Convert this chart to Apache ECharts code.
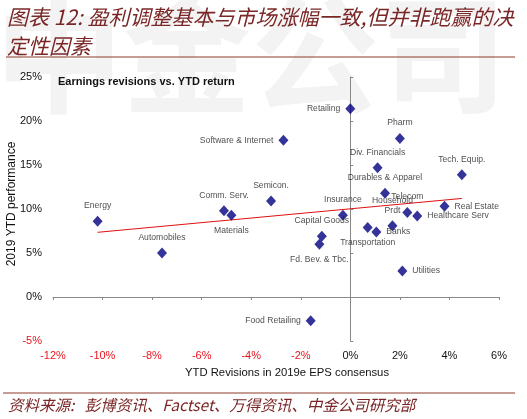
<!DOCTYPE html>
<html><head><meta charset="utf-8">
<script src="https://cdn.jsdelivr.net/npm/echarts@6/dist/echarts.min.js"></script>
<style>html,body{margin:0;padding:0;background:#fff}#c{width:527px;height:419px}</style>
</head><body><div id="c"></div>
<script>
// ---- data ----
const sectors = ['Energy','Automobiles','Comm. Serv.','Materials','Semicon.','Software & Internet','Retailing','Pharm','Div. Financials','Tech. Equip.','Durables & Apparel','Real Estate','Telecom','Healthcare Serv','Insurance','Household\nPrdt','Banks','Transportation','Capital Goods','Fd. Bev. & Tbc.','Utilities','Food Retailing'];
const epsRevision = [-10.2,-7.6,-5.1,-4.8,-3.2,-2.7,0.0,2.0,1.1,4.5,1.4,3.8,2.3,2.7,-0.3,1.7,1.05,0.7,-1.15,-1.25,2.1,-1.6];
const ytdReturn   = [8.6,5.0,9.8,9.3,10.9,17.8,21.4,18.0,14.7,13.9,11.8,10.3,9.6,9.2,9.3,8.1,7.4,7.9,6.9,6.0,2.95,-2.7];
const trendX = [-10.2, 4.5];
const trendY = [7.35, 11.2];
const xTicks = [-12,-10,-8,-6,-4,-2,0,2,4,6];
const yTicks = [-5,0,5,10,15,20,25];

// ---- label placement (style) ----
const labelPos = {
 'Energy':['top',[0,3]], 'Automobiles':['top',[0,3]], 'Comm. Serv.':['top',[-9,6]],
 'Materials':['bottom',[15,-4]], 'Semicon.':['top',[0,3]], 'Software & Internet':['left',[4,0]],
 'Retailing':['left',[0,-3]], 'Pharm':['top',[0,4]], 'Div. Financials':['top',[14,4]],
 'Tech. Equip.':['top',[0,4]], 'Durables & Apparel':['top',[17,6]], 'Real Estate':['right',[-4,-1]],
 'Telecom':['top',[11,6]], 'Healthcare Serv':['right',[-7,6]], 'Insurance':['top',[0,4]],
 'Household\nPrdt':['top',[-7,6]], 'Banks':['right',[-8,4]], 'Transportation':['bottom',[6,1]],
 'Capital Goods':['top',[-5,7]], 'Fd. Bev. & Tbc.':['bottom',[-11,-8]], 'Utilities':['right',[-1,1]],
 'Food Retailing':['left',[2,0]]
};

const pts = sectors.map((n,i)=>({
  name:n, value:[epsRevision[i], ytdReturn[i]],
  label:{show:true, formatter:n, position:labelPos[n][0], offset:labelPos[n][1], distance:5,
         fontSize:8.6, color:'#222', fontFamily:'Liberation Sans, Arial', lineHeight:10}
}));

const FONT = 'Liberation Sans, Arial, sans-serif';
const chart = echarts.init(document.getElementById('c'));
chart.setOption({
  animation:false,
  backgroundColor:'#fff',
  grid:{left:53, right:28, top:77, bottom:78, outerBoundsMode:'none', containLabel:false},
  graphic:[
    {type:'text', z:-10, left:-5, top:-10, style:{text:'中金公司', font:'bold 128px "Noto Sans CJK SC"', fill:'#f3f3f3'}},
    {type:'text', x:7, y:3, style:{text:'图表 12: 盈利调整基本与市场涨幅一致,但并非跑赢的决\n定性因素', font:'italic 21px "Noto Sans CJK SC"', fill:'#7a2626', lineHeight:29}},
    {type:'line', shape:{x1:6, y1:57, x2:515, y2:57}, style:{stroke:'#8a3a2a', lineWidth:1}},
    {type:'text', x:58, y:76, style:{text:'Earnings revisions vs. YTD return', font:'bold 11px '+FONT, fill:'#111'}},
    {type:'text', x:287, y:373, style:{text:'YTD Revisions in 2019e EPS consensus', font:'11.3px '+FONT, fill:'#111', textAlign:'center', textVerticalAlign:'middle'}},
    {type:'text', x:12, y:204, rotation:Math.PI/2, style:{text:'2019 YTD performance', font:'12px '+FONT, fill:'#111', textAlign:'center', textVerticalAlign:'middle'}},
    {type:'line', shape:{x1:3, y1:393, x2:515, y2:393}, style:{stroke:'#8a3a2a', lineWidth:1}},
    {type:'text', x:8, y:397, style:{text:'资料来源:   彭博资讯、Factset、万得资讯、中金公司研究部', font:'italic 15.5px "Noto Sans CJK SC"', fill:'#7a2626'}}
  ],
  xAxis:[
    {type:'value', min:-12, max:6, interval:2, position:'bottom',
     axisLine:{show:false, onZero:false}, axisTick:{show:false}, splitLine:{show:false},
     axisLabel:{margin:9, fontSize:11, fontFamily:FONT, formatter:v=>v+'%',
       color:v=>(v<0?'#e8141e':'#111')}},
    {type:'value', min:-12, max:6, interval:2,
     axisLine:{show:true, onZero:true, lineStyle:{color:'#888', width:1}},
     axisTick:{show:true, inside:true, length:3, lineStyle:{color:'#888'}},
     axisLabel:{show:false}, splitLine:{show:false}}
  ],
  yAxis:[
    {type:'value', min:-5, max:25, interval:5, position:'left',
     axisLine:{show:false, onZero:false}, axisTick:{show:false}, splitLine:{show:false},
     axisLabel:{margin:11, fontSize:11, fontFamily:FONT, formatter:v=>v+'%',
       color:v=>(v<0?'#e8141e':'#111')}},
    {type:'value', min:-5, max:25, interval:5,
     axisLine:{show:true, onZero:true, lineStyle:{color:'#888', width:1}},
     axisTick:{show:true, inside:false, length:3, lineStyle:{color:'#888'}},
     axisLabel:{show:false}, splitLine:{show:false}}
  ],
  series:[
    {type:'line', xAxisIndex:0, yAxisIndex:0, data:trendX.map((x,i)=>[x,trendY[i]]),
     symbol:'none', lineStyle:{color:'#e01010', width:1}, z:2},
    {type:'scatter', xAxisIndex:0, yAxisIndex:0, symbol:'diamond', symbolSize:[10,11],
     itemStyle:{color:'#000080'}, data:pts, z:3, labelLayout:{hideOverlap:false}}
  ]
});
</script></body></html>
